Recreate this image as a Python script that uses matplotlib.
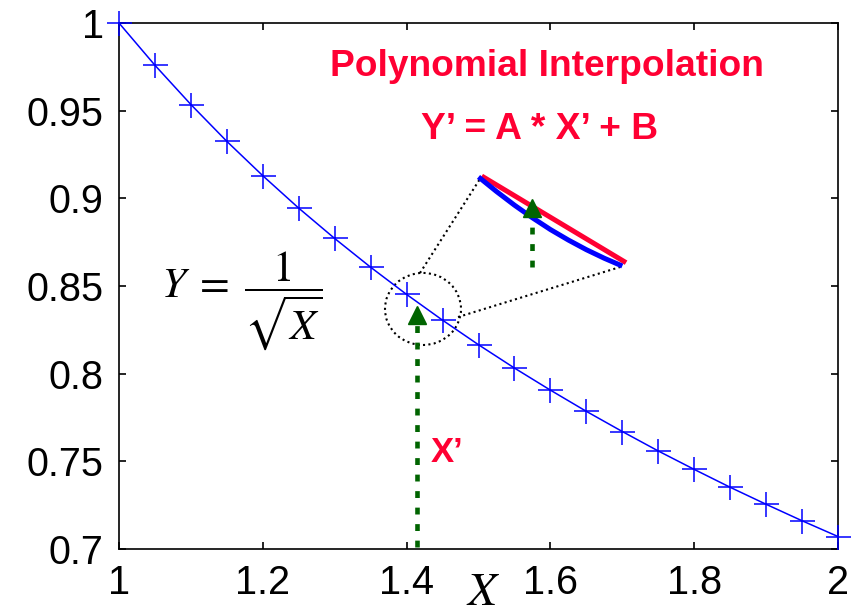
import numpy as np
import matplotlib
matplotlib.use("Agg")
import matplotlib.pyplot as plt
from matplotlib.patches import Ellipse

plt.rcParams['font.family'] = ['Liberation Sans', 'DejaVu Sans']
plt.rcParams['mathtext.fontset'] = 'stix'

# curve samples, Y = 1/sqrt(X)
x_vals = [1.00, 1.05, 1.10, 1.15, 1.20, 1.25, 1.30, 1.35, 1.40, 1.45, 1.50,
          1.55, 1.60, 1.65, 1.70, 1.75, 1.80, 1.85, 1.90, 1.95, 2.00]
y_vals = [1.0000, 0.9759, 0.9535, 0.9325, 0.9129, 0.8944, 0.8771, 0.8607,
          0.8452, 0.8305, 0.8165, 0.8032, 0.7906, 0.7785, 0.7670, 0.7559,
          0.7454, 0.7352, 0.7255, 0.7161, 0.7071]

# magnified piece (blue curve) and the interpolating chord (red)
zoom_x = [1.500, 1.525, 1.550, 1.575, 1.600, 1.625, 1.650, 1.675, 1.700]
zoom_y = [0.9122, 0.9039, 0.8961, 0.8889, 0.8822, 0.8762, 0.8707, 0.8658, 0.8614]
chord_x = [1.5045, 1.7052]
chord_y = [0.9127, 0.8633]

# dotted callout lines from circle to the zoom
call1_x = [1.4186, 1.5021]
call1_y = [0.8574, 0.9111]
call2_x = [1.4715, 1.6968]
call2_y = [0.8323, 0.8608]
circle_xy = (1.4228, 0.8369)
circle_w, circle_h = 0.1057, 0.0411

# green arrows (x, y start, y tip)
arrow1 = (1.4145, 0.7012, 0.838)
arrow2 = (1.5744, 0.8608, 0.899)

xticks = [1, 1.2, 1.4, 1.6, 1.8, 2]
xtick_labels = ['1', '1.2', '1.4', '1.6', '1.8', '2']
yticks = [0.7, 0.75, 0.8, 0.85, 0.9, 0.95, 1.0]
ytick_labels = ['0.7', '0.75', '0.8', '0.85', '0.9', '0.95', '1']

red = '#FF0033'
green = '#006400'
blue = '#0000FF'

fig = plt.figure(figsize=(8.59, 6.13), dpi=100)
ax = fig.add_axes([0.1385, 0.1044, 0.8371, 0.8581])

ax.plot(x_vals, y_vals, color=blue, lw=1.1, marker='+', ms=18, mew=1.1,
        clip_on=False, zorder=3)

ax.set_xlim(1, 2)
ax.set_ylim(0.7, 1.0)
ax.set_xticks(xticks)
ax.set_xticklabels(xtick_labels)
ax.set_yticks(yticks)
ax.set_yticklabels(ytick_labels)
ax.tick_params(direction='in', top=True, right=True, length=5, width=1.2,
               labelsize=28.5, pad=11)
for s in ax.spines.values():
    s.set_linewidth(1.2)

# circle + callout
ax.add_patch(Ellipse(circle_xy, circle_w, circle_h, fill=False, ec='black',
                     lw=1.5, ls=(0, (1, 1.6))))
ax.plot(call1_x, call1_y, color='black', lw=1.5, ls=(0, (1, 1.6)))
ax.plot(call2_x, call2_y, color='black', lw=1.5, ls=(0, (1, 1.6)))

# zoomed curve and chord
ax.plot(zoom_x, zoom_y, color=blue, lw=3.6, solid_capstyle='butt', zorder=4)
ax.plot(chord_x, chord_y, color=red, lw=3.6, solid_capstyle='butt', zorder=3)

# green dotted arrows
for ax_x, y0, y1 in [arrow1, arrow2]:
    ax.plot([ax_x, ax_x], [y0, y1 - 0.006], color=green, lw=3.3,
            ls=(0, (1.5, 2.1)), zorder=5)
    ax.plot([ax_x], [y1 - 0.0045], marker='^', ms=13, color=green, mec=green,
            ls='none', zorder=5)

# texts
ax.text(1.5946, 0.9749, 'Polynomial Interpolation', color=red, fontsize=26.7,
        fontweight='bold', ha='center', va='center')
ax.text(1.5855, 0.939, 'Y\u2019 = A * X\u2019 + B', color=red, fontsize=26.7,
        fontweight='bold', ha='center', va='center')
ax.text(1.456, 0.7548, 'X\u2019', color=red, fontsize=25, fontweight='bold',
        ha='center', va='center')
ax.text(1.0585, 0.8415, r'$Y\;=\;\dfrac{1}{\sqrt{X}}$', fontsize=31,
        ha='left', va='center', color='black')
ax.text(0.506, -0.083, r'$X$', transform=ax.transAxes, fontsize=34,
        ha='center', va='center')

fig.savefig('out.png', dpi=100)
